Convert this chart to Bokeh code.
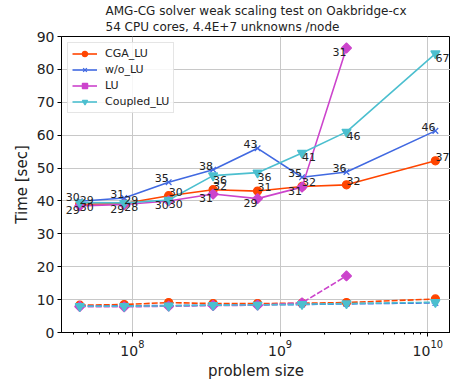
import math
from bokeh.plotting import figure
from bokeh.models import ColumnDataSource, FixedTicker
from bokeh.core.properties import value
from bokeh.embed import file_html
from bokeh.resources import INLINE

# ---- data ----
problem_size = [4.4e7, 8.8e7, 1.76e8, 3.52e8, 7.04e8, 1.408e9, 2.816e9, 1.1264e10]

cga_total = [39.0, 39.2, 41.6, 43.4, 43.0, 44.4, 44.9, 52.2]
wo_total = [39.9, 40.9, 45.7, 49.5, 56.0, 47.2, 48.8, 61.3]
lu_total = [38.5, 38.9, 40.0, 42.1, 40.7, 44.2, 86.5]
coupled_total = [39.5, 39.4, 40.3, 47.7, 48.6, 54.6, 61.0, 84.8]

cga_setup = [8.3, 8.5, 9.1, 8.8, 8.8, 8.9, 9.1, 10.2]
wo_setup = [8.0, 8.1, 8.2, 8.3, 8.4, 8.5, 8.7, 9.0]
lu_setup = [7.9, 7.8, 8.0, 8.2, 8.3, 9.0, 17.2]
coupled_setup = [8.0, 8.0, 8.1, 8.3, 8.4, 8.6, 8.8, 9.2]

cga_iter = [29, 29, 30, 32, 31, 32, 32, 37]
wo_iter = [30, 31, 35, 38, 43, 35, 36, 46]
lu_iter = [29, 29, 30, 31, 29, 31, 31]
coupled_iter = [30, 28, 30, 36, 36, 41, 46, 67]

series_names = ["CGA_LU", "w/o_LU", "LU", "Coupled_LU"]
y_ticks = [0, 10, 20, 30, 40, 50, 60, 70, 80, 90]

FONT = "DejaVu Sans"

p = figure(width=450, height=382, x_axis_type="log",
           x_range=(10 ** 7.52, 10 ** 10.154), y_range=(0, 90),
           output_backend="svg", toolbar_location=None,
           min_border_left=61, min_border_right=0, min_border_top=0, min_border_bottom=0,
           title="AMG-CG solver weak scaling test on Oakbridge-cx\n54 CPU cores, 4.4E+7 unknowns /node")

p.title.align = "center"
p.title.text_font = FONT
p.title.text_font_size = "12px"
p.title.text_font_style = "normal"
p.title.text_color = "#222222"
p.title.text_line_height = 1.15
p.title.standoff = 4

p.background_fill_color = "white"
p.border_fill_color = "white"
p.outline_line_color = "black"
p.outline_line_width = 1

p.grid.grid_line_color = "#c8c8c8"
p.grid.grid_line_width = 1
p.xgrid.minor_grid_line_color = None

for ax in (p.xaxis[0], p.yaxis[0]):
    ax.axis_line_color = "black"
    ax.major_tick_line_color = "black"
    ax.major_tick_out = 4
    ax.major_tick_in = 0
    ax.major_label_text_font = FONT
    ax.major_label_text_font_size = "14px"
    ax.major_label_text_color = "#222222"
    ax.axis_label_text_font = FONT
    ax.axis_label_text_font_size = "15px"
    ax.axis_label_text_font_style = "normal"
    ax.axis_label_text_color = "#222222"
    ax.major_label_standoff = 3
    ax.axis_label_standoff = 3

p.yaxis.axis_label = "Time [sec]"
p.xaxis.axis_label = "problem size"
p.yaxis.ticker = FixedTicker(ticks=y_ticks)
p.yaxis.minor_tick_line_color = None
p.xaxis.minor_tick_line_color = "black"
p.xaxis.minor_tick_out = 2
p.xaxis.minor_tick_in = 0

colors = ["#ff4500", "#4169e1", "#cc44cc", "#4cbfcf"]
markers = ["circle", "x", "square", "inverted_triangle"]
sizes = [8, 8, 7, 9]
angles = [0, 0, math.pi / 4, 0]
totals = [cga_total, wo_total, lu_total, coupled_total]
setups = [cga_setup, wo_setup, lu_setup, coupled_setup]
iters = [cga_iter, wo_iter, lu_iter, coupled_iter]
aligns = [("left", "bottom"), ("right", "bottom"), ("right", "top"), ("left", "top")]

for name, col, mk, sz, ang, tot in zip(series_names, colors, markers, sizes, angles, totals):
    xs = problem_size[:len(tot)]
    p.line(xs, tot, line_color=col, line_width=1.6, legend_label=name)
    p.scatter(xs, tot, marker=mk, size=sz, angle=ang, fill_color=col, line_color=col,
              line_width=1.3, legend_label=name)

for col, mk, sz, ang, stp in zip(colors, markers, sizes, angles, setups):
    xs = problem_size[:len(stp)]
    p.line(xs, stp, line_color=col, line_width=1.6, line_dash="6 2")
    p.scatter(xs, stp, marker=mk, size=sz, angle=ang, fill_color=col, line_color=col, line_width=1.3)

for tot, it, (al, bl) in zip(totals, iters, aligns):
    src = ColumnDataSource(dict(x=problem_size[:len(tot)], y=tot, t=[str(v) for v in it]))
    p.text(x="x", y="y", text="t", source=src, text_align=al, text_baseline=bl,
           text_font=value(FONT), text_font_size="11px", text_color="#222222")

lg = p.legend[0]
lg.location = "top_left"
lg.margin = 6
lg.padding = 4
lg.spacing = 3
lg.glyph_width = 25
lg.glyph_height = 13
lg.label_height = 13
lg.label_standoff = 8
lg.label_text_font = FONT
lg.label_text_font_size = "11px"
lg.label_text_color = "#222222"
lg.border_line_color = "#cccccc"
lg.border_line_width = 1
lg.background_fill_alpha = 0.85

open("out.html", "w").write(file_html(p, INLINE))
